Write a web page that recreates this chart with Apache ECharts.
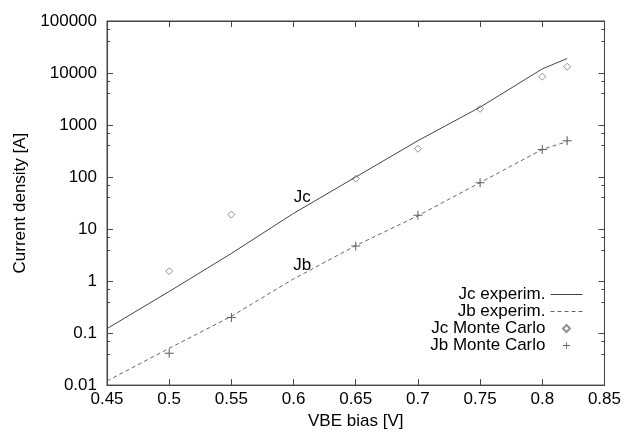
<!DOCTYPE html>
<html>
<head>
<meta charset="utf-8">
<script src="https://cdn.jsdelivr.net/npm/echarts@6/dist/echarts.min.js"></script>
<style>
  html, body { margin: 0; padding: 0; background: #fff; }
  #main { width: 624px; height: 435px; }
</style>
</head>
<body>
<div id="main"></div>
<script>
// data
var vbe = [0.45, 0.5, 0.55, 0.6, 0.65, 0.7, 0.75, 0.8, 0.82];
var jcExp = [0.122, 0.63, 3.4, 20, 100, 500, 2200, 12000, 19000];
var jbExp = [0.012, 0.051, 0.21, 1.1, 4.8, 18, 78, 340, 480];

var vbeMC = [0.5, 0.55, 0.65, 0.7, 0.75, 0.8, 0.82];
var jcMC = [1.55, 19, 93, 350, 2050, 8500, 13200];
var jbMC = [0.041, 0.2, 4.7, 18.5, 78, 340, 500];

var xTicks = ['0.45', '0.5', '0.55', '0.6', '0.65', '0.7', '0.75', '0.8', '0.85'];
var yTicks = ['0.01', '0.1', '1', '10', '100', '1000', '10000', '100000'];

function pairs(xs, ys) {
  return xs.map(function (x, i) { return [x, ys[i]]; });
}

var font = 'Liberation Sans, Arial, Helvetica, sans-serif';
var frame = '#444';
var diamondIcon = 'path://M5,0L10,5L5,10L0,5Z';
var plusIcon = 'path://M0,4H9V5H0Z M4,0H5V9H4Z';

var chart = echarts.init(document.getElementById('main'), null, { renderer: 'canvas' });

var baseX = {
  type: 'value',
  min: 0.45,
  max: 0.85,
  interval: 0.05,
  splitLine: { show: false },
  axisLine: { show: true, lineStyle: { color: frame, width: 1 } },
  axisTick: { show: true, inside: true, length: 6, lineStyle: { color: frame } }
};
var baseY = {
  type: 'log',
  logBase: 10,
  min: 0.01,
  max: 100000,
  splitLine: { show: false },
  axisLine: { show: true, lineStyle: { color: frame, width: 1 } },
  axisTick: { show: true, inside: true, length: 6, lineStyle: { color: frame } },
  minorTick: { show: true, splitNumber: 3, length: 3, lineStyle: { color: frame } }
};

var option = {
  animation: false,
  textStyle: { fontFamily: font },
  grid: { left: 107, right: 17, top: 21, bottom: 40, show: true, borderColor: frame, borderWidth: 1 },
  xAxis: [
    Object.assign({}, baseX, {
      position: 'bottom',
      name: 'VBE bias [V]',
      nameLocation: 'middle',
      nameGap: 23,
      nameTextStyle: { fontSize: 17, color: '#000', fontFamily: font },
      axisLabel: {
        margin: 6, fontSize: 17, color: '#000', fontFamily: font,
        formatter: function (v) {
          var i = Math.round((v - 0.45) / 0.05);
          return xTicks[i] || '';
        }
      }
    }),
    Object.assign({}, baseX, { position: 'top', axisLabel: { show: false } })
  ],
  yAxis: [
    Object.assign({}, baseY, {
      position: 'left',
      name: 'Current density [A]',
      nameLocation: 'middle',
      nameGap: 78,
      nameTextStyle: { fontSize: 17, color: '#000', fontFamily: font },
      axisLabel: {
        margin: 10, fontSize: 17, color: '#000', fontFamily: font,
        formatter: function (v) {
          var i = Math.round(Math.log10(v)) + 2;
          return yTicks[i] || '';
        }
      }
    }),
    Object.assign({}, baseY, { position: 'right', axisLabel: { show: false } })
  ],
  legend: {
    orient: 'vertical',
    right: 36,
    top: 281,
    align: 'right',
    itemWidth: 32,
    itemHeight: 7,
    itemGap: 0,
    symbolKeepAspect: true,
    lineStyle: { width: 1 },
    textStyle: { fontSize: 17, color: '#000', fontFamily: font, lineHeight: 17 },
    data: [
      { name: 'Jc experim.', itemStyle: { opacity: 0 }, lineStyle: { width: 1 } },
      { name: 'Jb experim.', itemStyle: { opacity: 0 }, lineStyle: { width: 1 } },
      { name: 'Jc Monte Carlo', icon: diamondIcon },
      { name: 'Jb Monte Carlo', icon: plusIcon }
    ]
  },
  series: [
    {
      name: 'Jc experim.',
      type: 'line',
      data: pairs(vbe, jcExp),
      symbol: 'none',
      lineStyle: { color: '#444', width: 1 },
      itemStyle: { color: '#444' },
      markPoint: {
        symbol: 'circle',
        symbolSize: 0,
        label: { show: true, formatter: 'Jc', fontSize: 17, color: '#000', fontFamily: font },
        data: [{ coord: [0.607, 41] }]
      }
    },
    {
      name: 'Jb experim.',
      type: 'line',
      data: pairs(vbe, jbExp),
      symbol: 'none',
      lineStyle: { color: '#666', width: 1, type: [4, 3] },
      itemStyle: { color: '#666' },
      markPoint: {
        symbol: 'circle',
        symbolSize: 0,
        label: { show: true, formatter: 'Jb', fontSize: 17, color: '#000', fontFamily: font },
        data: [{ coord: [0.607, 2.0] }]
      }
    },
    {
      name: 'Jc Monte Carlo',
      type: 'scatter',
      data: pairs(vbeMC, jcMC),
      symbol: 'diamond',
      symbolSize: 7,
      itemStyle: { color: '#fff', borderColor: '#777', borderWidth: 1 }
    },
    {
      name: 'Jb Monte Carlo',
      type: 'scatter',
      data: pairs(vbeMC, jbMC),
      symbol: plusIcon,
      symbolSize: 9,
      itemStyle: { color: '#333' }
    }
  ]
};

chart.setOption(option);
</script>
</body>
</html>
